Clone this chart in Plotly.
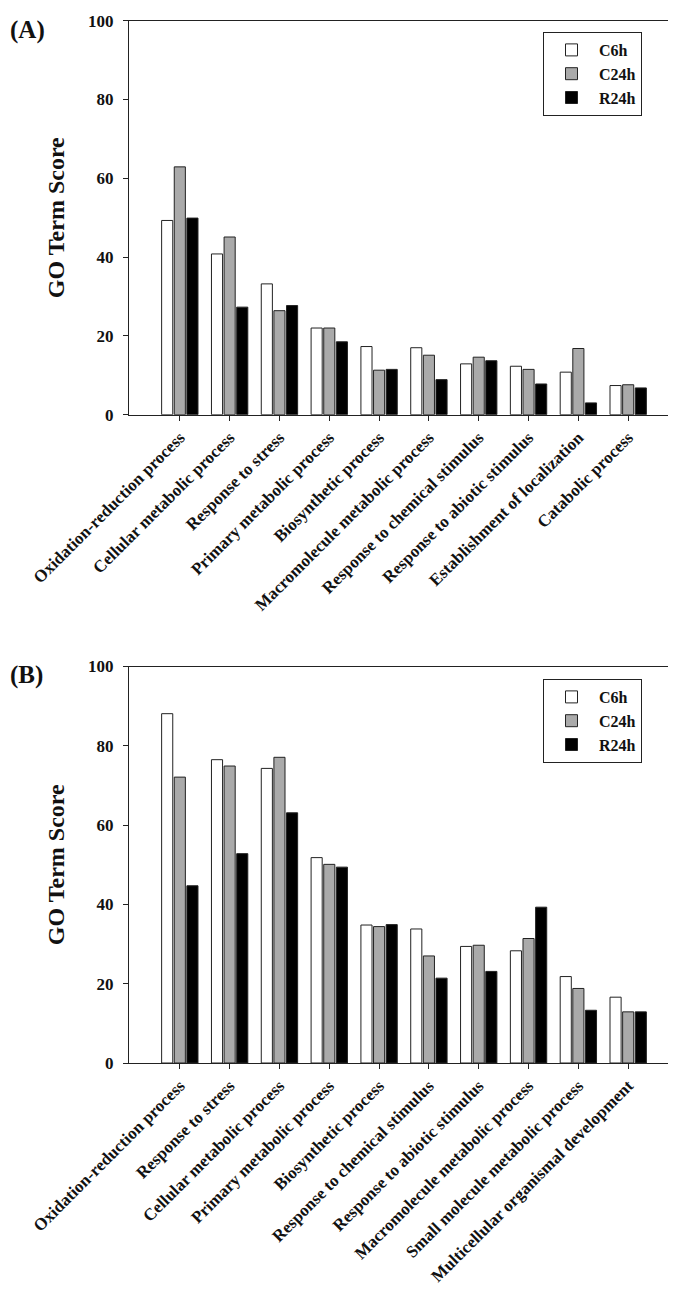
import plotly.graph_objects as go

series = ["C6h", "C24h", "R24h"]
colors = ["#ffffff", "#aaaaaa", "#000000"]

cats_a = ["Oxidation-reduction process", "Cellular metabolic process", "Response to stress",
          "Primary metabolic process", "Biosynthetic process", "Macromolecule metabolic process",
          "Response to chemical stimulus", "Response to abiotic stimulus",
          "Establishment of localization", "Catabolic process"]
c6h_a = [49.3, 40.8, 33.2, 22.0, 17.3, 17.0, 12.9, 12.3, 10.8, 7.4]
c24h_a = [62.9, 45.1, 26.4, 22.0, 11.3, 15.1, 14.6, 11.5, 16.8, 7.6]
r24h_a = [49.9, 27.3, 27.7, 18.5, 11.5, 8.9, 13.7, 7.8, 3.0, 6.8]

cats_b = ["Oxidation-reduction process", "Response to stress", "Cellular metabolic process",
          "Primary metabolic process", "Biosynthetic process", "Response to chemical stimulus",
          "Response to abiotic stimulus", "Macromolecule metabolic process",
          "Small molecule metabolic process", "Multicellular organismal development"]
c6h_b = [88.1, 76.5, 74.3, 51.8, 34.8, 33.8, 29.4, 28.3, 21.8, 16.6]
c24h_b = [72.1, 74.9, 77.1, 50.1, 34.4, 27.0, 29.7, 31.4, 18.8, 12.9]
r24h_b = [44.7, 52.8, 63.1, 49.4, 34.9, 21.4, 23.1, 39.3, 13.3, 12.9]

y_ticks = [0, 20, 40, 60, 80, 100]
panel_labels = ["(A)", "(B)"]

FONT = "Liberation Serif"
LINE = "#222222"

fig = go.Figure()
panels = [
    (cats_a, [c6h_a, c24h_a, r24h_a], "x", "y", "legend"),
    (cats_b, [c6h_b, c24h_b, r24h_b], "x2", "y2", "legend2"),
]
for cats, vals, xa, ya, lg in panels:
    for name, col, v in zip(series, colors, vals):
        fig.add_trace(go.Bar(
            x=cats, y=v, name=name, xaxis=xa, yaxis=ya, legend=lg,
            marker=dict(color=col, line=dict(color=LINE, width=1)),
        ))

W, H = 676, 1295
xdom = [121 / W, 670 / W]
ydom_a = [1 - 406.7 / H, 1 - 12.7 / H]
ydom_b = [1 - 1055 / H, 1 - 658.5 / H]

xcommon = dict(
    type="category", range=[-1.02, 10.0], domain=xdom, automargin=False,
    showline=True, linecolor=LINE, linewidth=1.2, mirror=True,
    ticks="outside", ticklen=5, tickcolor=LINE, tickwidth=1.2,
    tickangle=-45, showgrid=False, zeroline=False,
    tickfont=dict(family=FONT, size=17, color="#111111", weight="bold"),
)
ycommon = dict(
    range=[0, 100], tickvals=y_ticks, automargin=False,
    showline=True, linecolor=LINE, linewidth=1.2, mirror=True,
    ticks="outside", ticklen=5, tickcolor=LINE, tickwidth=1.2,
    showgrid=False, zeroline=False, ticklabelstandoff=6,
    tickfont=dict(family=FONT, size=17, color="#111111", weight="bold"),
    title=dict(text="GO Term Score", standoff=16,
               font=dict(family=FONT, size=24, color="#111111", weight="bold")),
)
legcommon = dict(
    x=535 / W, xanchor="left", yanchor="top",
    bgcolor="white", bordercolor=LINE, borderwidth=1, itemwidth=45,
    font=dict(family=FONT, size=16, color="#111111", weight="bold"),
    tracegroupgap=0,
)

fig.update_layout(
    width=W, height=H,
    margin=dict(l=0, r=0, t=0, b=0, autoexpand=False),
    paper_bgcolor="white", plot_bgcolor="white",
    barmode="group", bargap=0.24, bargroupgap=0.12,
    xaxis=dict(anchor="y", **xcommon),
    yaxis=dict(anchor="x", domain=ydom_a, **ycommon),
    xaxis2=dict(anchor="y2", **xcommon),
    yaxis2=dict(anchor="x2", domain=ydom_b, **ycommon),
    legend=dict(y=1 - 24 / H, **legcommon),
    legend2=dict(y=1 - 671 / H, **legcommon),
    annotations=[
        dict(text="<b>" + panel_labels[0] + "</b>", xref="paper", yref="paper",
             x=0, y=1 - 6 / H, xanchor="left", yanchor="top", showarrow=False,
             font=dict(family=FONT, size=25, color="#111111")),
        dict(text="<b>" + panel_labels[1] + "</b>", xref="paper", yref="paper",
             x=0, y=1 - 651 / H, xanchor="left", yanchor="top", showarrow=False,
             font=dict(family=FONT, size=25, color="#111111")),
    ],
)

fig.write_html("out.html")
